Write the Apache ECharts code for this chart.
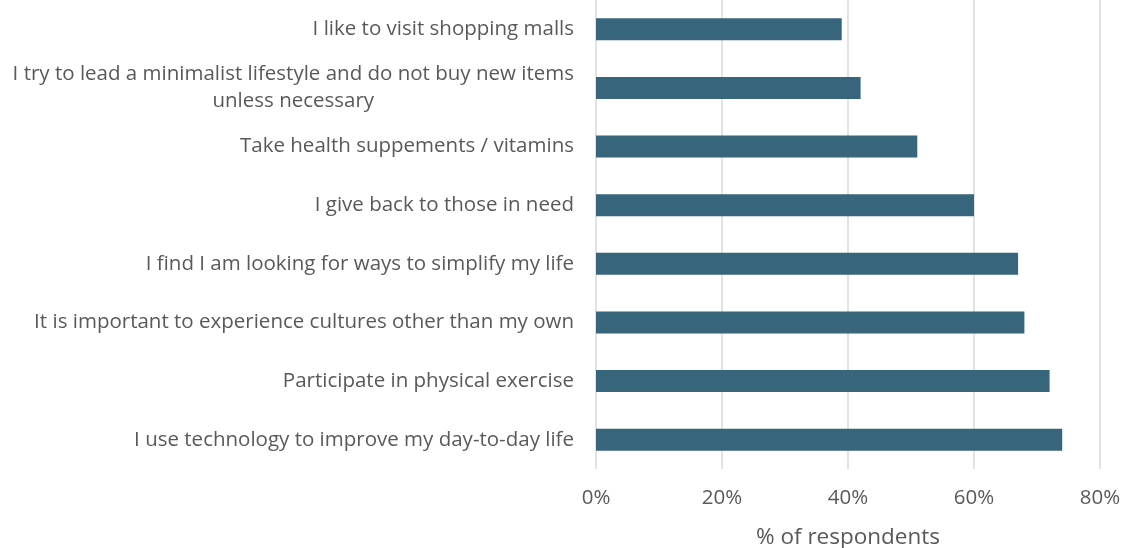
<!DOCTYPE html>
<html>
<head>
<meta charset="utf-8">
<style>
  html, body { margin: 0; padding: 0; background: #ffffff; }
  #chart { width: 1125px; height: 548px; }
</style>
<script src="https://cdn.jsdelivr.net/npm/echarts@6/dist/echarts.min.js"></script>
</head>
<body>
<div id="chart"></div>
<script>
// Survey statements, listed bottom-to-top as the category axis draws them
const categories = [
  'I use technology to improve my day-to-day life',
  'Participate in physical exercise',
  'It is important to experience cultures other than my own',
  'I find I am looking for ways to simplify my life',
  'I give back to those in need',
  'Take health suppements / vitamins',
  'I try to lead a minimalist lifestyle and do not buy new items\nunless necessary',
  'I like to visit shopping malls'
];
// Share of respondents agreeing (%)
const shares = [74, 72, 68, 67, 60, 51, 42, 39];
const axisMax = 80;
const axisStep = 20;

const FONT = '"Open Sans", Lato, "Liberation Sans", sans-serif';
const TEXT = '#595959';
const LABEL_SIZE = 20.5;

const chart = echarts.init(document.getElementById('chart'), null, { renderer: 'canvas' });
chart.setOption({
  animation: false,
  backgroundColor: '#ffffff',
  grid: {
    left: 596, right: 25, top: 0, bottom: 79,
    containLabel: false,
    outerBoundsMode: 'none'
  },
  xAxis: {
    type: 'value',
    min: 0,
    max: axisMax,
    interval: axisStep,
    name: '% of respondents',
    nameLocation: 'middle',
    nameGap: 57,
    nameTextStyle: { color: TEXT, fontSize: 22.5, fontFamily: FONT },
    axisLine: { show: false },
    axisTick: { show: false },
    axisLabel: {
      formatter: '{value}%',
      color: TEXT, fontSize: LABEL_SIZE, fontFamily: FONT, margin: 19
    },
    splitLine: { show: true, lineStyle: { color: '#d9d9d9', width: 1.5 } }
  },
  yAxis: {
    type: 'category',
    data: categories,
    axisLine: { show: false },
    axisTick: { show: false },
    axisLabel: {
      margin: 22,
      color: TEXT,
      fontSize: LABEL_SIZE,
      fontFamily: FONT,
      lineHeight: 27,
      formatter: function (v) {
        const parts = v.split('\n');
        if (parts.length === 1) return v;
        return '{a|' + parts[0] + '}\n{c|' + parts[1] + '}';
      },
      rich: {
        a: { color: TEXT, fontSize: LABEL_SIZE, fontFamily: FONT, lineHeight: 27 },
        c: { color: TEXT, fontSize: LABEL_SIZE, fontFamily: FONT, lineHeight: 27, align: 'center' }
      }
    }
  },
  series: [{
    type: 'bar',
    data: shares,
    barWidth: 22,
    itemStyle: { color: '#37657b' },
    silent: true
  }]
});
</script>
</body>
</html>
